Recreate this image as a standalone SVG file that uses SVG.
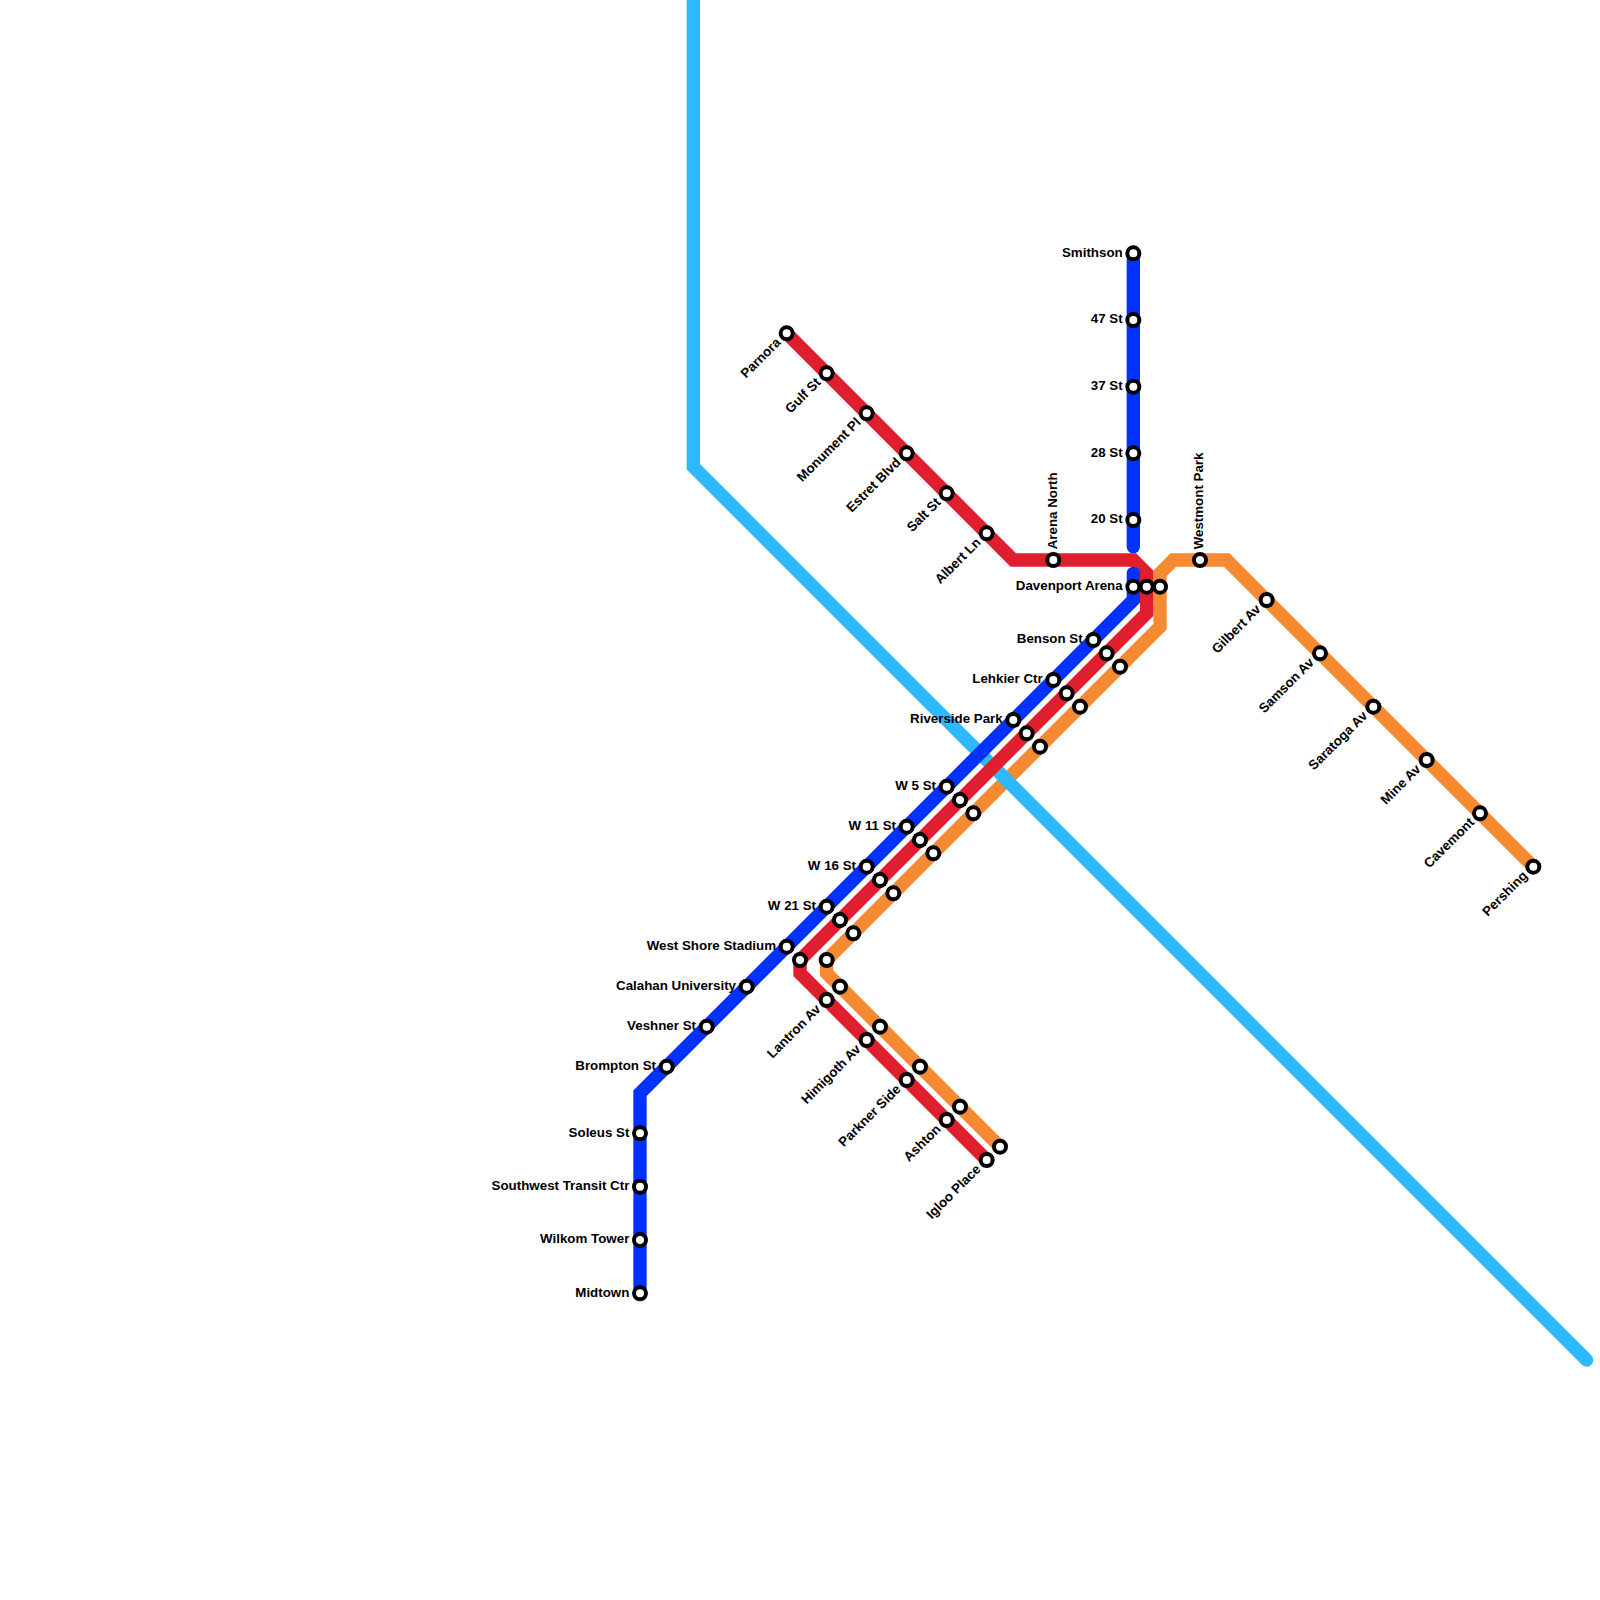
<svg xmlns="http://www.w3.org/2000/svg" width="1600" height="1600" viewBox="0 0 1600 1600">
<style>
.line{fill:none;stroke-width:13.33;stroke-linecap:round;stroke-linejoin:miter}
.cyan{stroke:#2db9ff}.blue{stroke:#0331ff}.red{stroke:#df1e2e}.orange{stroke:#f68a33}
circle{fill:#fff;stroke:#000;stroke-width:4}
text{font-family:"Liberation Sans",Arial,sans-serif;font-weight:700;font-size:13.33px;fill:#000}
.e{text-anchor:end}
</style>
<rect width="1600" height="1600" fill="#fff"/>
<g id="connectors">
<path class="line orange" d="M1533.33 866.67L1226.67 560H1173.33L1160 573.33V626.67L826.67 960V973.33L1000 1146.67"/>
<path class="line cyan" d="M693.33 -10V466.67L1586.67 1360"/>
<path class="line red" d="M786.67 333.33L1013.33 560H1133.33L1146.67 573.33V613.33L800 960V973.33L986.67 1160"/>
<path class="line blue" d="M1133.33 253.33V546.67"/>
<path class="line blue" d="M1133.33 573.33V600L640 1093.33V1293.33"/>
</g>
<g id="blue-stations">
<g id="smithson" transform="translate(1133.33 253.33)"><circle r="6"/><text class="e" x="-10.67" y="3.33">Smithson</text></g>
<g id="st47" transform="translate(1133.33 320)"><circle r="6"/><text class="e" x="-10.67" y="3.33">47 St</text></g>
<g id="st37" transform="translate(1133.33 386.67)"><circle r="6"/><text class="e" x="-10.67" y="3.33">37 St</text></g>
<g id="st28" transform="translate(1133.33 453.33)"><circle r="6"/><text class="e" x="-10.67" y="3.33">28 St</text></g>
<g id="st20" transform="translate(1133.33 520)"><circle r="6"/><text class="e" x="-10.67" y="3.33">20 St</text></g>
<g id="davenport" transform="translate(1133.33 586.67)"><circle r="6"/><text class="e" x="-10.67" y="3.33">Davenport Arena</text></g>
<g id="benson" transform="translate(1093.33 640)"><circle r="6"/><text class="e" x="-10.67" y="3.33">Benson St</text></g>
<g id="lehkier" transform="translate(1053.33 680)"><circle r="6"/><text class="e" x="-10.67" y="3.33">Lehkier Ctr</text></g>
<g id="riverside" transform="translate(1013.33 720)"><circle r="6"/><text class="e" x="-10.67" y="3.33">Riverside Park</text></g>
<g id="w5" transform="translate(946.67 786.67)"><circle r="6"/><text class="e" x="-10.67" y="3.33">W 5 St</text></g>
<g id="w11" transform="translate(906.67 826.67)"><circle r="6"/><text class="e" x="-10.67" y="3.33">W 11 St</text></g>
<g id="w16" transform="translate(866.67 866.67)"><circle r="6"/><text class="e" x="-10.67" y="3.33">W 16 St</text></g>
<g id="w21" transform="translate(826.67 906.67)"><circle r="6"/><text class="e" x="-10.67" y="3.33">W 21 St</text></g>
<g id="westshore" transform="translate(786.67 946.67)"><circle r="6"/><text class="e" x="-10.67" y="3.33">West Shore Stadium</text></g>
<g id="calahan" transform="translate(746.67 986.67)"><circle r="6"/><text class="e" x="-10.67" y="3.33">Calahan University</text></g>
<g id="veshner" transform="translate(706.67 1026.67)"><circle r="6"/><text class="e" x="-10.67" y="3.33">Veshner St</text></g>
<g id="brompton" transform="translate(666.67 1066.67)"><circle r="6"/><text class="e" x="-10.67" y="3.33">Brompton St</text></g>
<g id="soleus" transform="translate(640 1133.33)"><circle r="6"/><text class="e" x="-10.67" y="3.33">Soleus St</text></g>
<g id="southwest" transform="translate(640 1186.67)"><circle r="6"/><text class="e" x="-10.67" y="3.33">Southwest Transit Ctr</text></g>
<g id="wilkom" transform="translate(640 1240)"><circle r="6"/><text class="e" x="-10.67" y="3.33">Wilkom Tower</text></g>
<g id="midtown" transform="translate(640 1293.33)"><circle r="6"/><text class="e" x="-10.67" y="3.33">Midtown</text></g>
</g>
<g id="red-stations">
<g id="parnora" transform="translate(786.67 333.33)"><circle r="6"/><text class="e" x="-10.67" y="3.33" transform="rotate(-45)">Parnora</text></g>
<g id="gulf" transform="translate(826.67 373.33)"><circle r="6"/><text class="e" x="-10.67" y="3.33" transform="rotate(-45)">Gulf St</text></g>
<g id="monument" transform="translate(866.67 413.33)"><circle r="6"/><text class="e" x="-10.67" y="3.33" transform="rotate(-45)">Monument Pl</text></g>
<g id="estret" transform="translate(906.67 453.33)"><circle r="6"/><text class="e" x="-10.67" y="3.33" transform="rotate(-45)">Estret Blvd</text></g>
<g id="salt" transform="translate(946.67 493.33)"><circle r="6"/><text class="e" x="-10.67" y="3.33" transform="rotate(-45)">Salt St</text></g>
<g id="albert" transform="translate(986.67 533.33)"><circle r="6"/><text class="e" x="-10.67" y="3.33" transform="rotate(-45)">Albert Ln</text></g>
<g id="arena-north" transform="translate(1053.33 560)"><circle r="6"/><text x="10.67" y="3.33" transform="rotate(-90)">Arena North</text></g>
<g id="red-davenport" transform="translate(1146.67 586.67)"><circle r="6"/></g>
<g id="red-benson" transform="translate(1106.67 653.33)"><circle r="6"/></g>
<g id="red-lehkier" transform="translate(1066.67 693.33)"><circle r="6"/></g>
<g id="red-riverside" transform="translate(1026.67 733.33)"><circle r="6"/></g>
<g id="red-w5" transform="translate(960 800)"><circle r="6"/></g>
<g id="red-w11" transform="translate(920 840)"><circle r="6"/></g>
<g id="red-w16" transform="translate(880 880)"><circle r="6"/></g>
<g id="red-w21" transform="translate(840 920)"><circle r="6"/></g>
<g id="red-westshore" transform="translate(800 960)"><circle r="6"/></g>
<g id="lantron" transform="translate(826.67 1000)"><circle r="6"/><text class="e" x="-10.67" y="3.33" transform="rotate(-45)">Lantron Av</text></g>
<g id="himigoth" transform="translate(866.67 1040)"><circle r="6"/><text class="e" x="-10.67" y="3.33" transform="rotate(-45)">Himigoth Av</text></g>
<g id="parkner" transform="translate(906.67 1080)"><circle r="6"/><text class="e" x="-10.67" y="3.33" transform="rotate(-45)">Parkner Side</text></g>
<g id="ashton" transform="translate(946.67 1120)"><circle r="6"/><text class="e" x="-10.67" y="3.33" transform="rotate(-45)">Ashton</text></g>
<g id="igloo" transform="translate(986.67 1160)"><circle r="6"/><text class="e" x="-10.67" y="3.33" transform="rotate(-45)">Igloo Place</text></g>
</g>
<g id="orange-stations">
<g id="orange-davenport" transform="translate(1160 586.67)"><circle r="6"/></g>
<g id="westmont" transform="translate(1200 560)"><circle r="6"/><text x="10.67" y="3.33" transform="rotate(-90)">Westmont Park</text></g>
<g id="gilbert" transform="translate(1266.67 600)"><circle r="6"/><text class="e" x="-10.67" y="3.33" transform="rotate(-45)">Gilbert Av</text></g>
<g id="samson" transform="translate(1320 653.33)"><circle r="6"/><text class="e" x="-10.67" y="3.33" transform="rotate(-45)">Samson Av</text></g>
<g id="saratoga" transform="translate(1373.33 706.67)"><circle r="6"/><text class="e" x="-10.67" y="3.33" transform="rotate(-45)">Saratoga Av</text></g>
<g id="mine" transform="translate(1426.67 760)"><circle r="6"/><text class="e" x="-10.67" y="3.33" transform="rotate(-45)">Mine Av</text></g>
<g id="cavemont" transform="translate(1480 813.33)"><circle r="6"/><text class="e" x="-10.67" y="3.33" transform="rotate(-45)">Cavemont</text></g>
<g id="pershing" transform="translate(1533.33 866.67)"><circle r="6"/><text class="e" x="-10.67" y="3.33" transform="rotate(-45)">Pershing</text></g>
<g id="orange-benson" transform="translate(1120 666.67)"><circle r="6"/></g>
<g id="orange-lehkier" transform="translate(1080 706.67)"><circle r="6"/></g>
<g id="orange-riverside" transform="translate(1040 746.67)"><circle r="6"/></g>
<g id="orange-w5" transform="translate(973.33 813.33)"><circle r="6"/></g>
<g id="orange-w11" transform="translate(933.33 853.33)"><circle r="6"/></g>
<g id="orange-w16" transform="translate(893.33 893.33)"><circle r="6"/></g>
<g id="orange-w21" transform="translate(853.33 933.33)"><circle r="6"/></g>
<g id="orange-westshore" transform="translate(826.67 960)"><circle r="6"/></g>
<g id="orange-lantron" transform="translate(840 986.67)"><circle r="6"/></g>
<g id="orange-himigoth" transform="translate(880 1026.67)"><circle r="6"/></g>
<g id="orange-parkner" transform="translate(920 1066.67)"><circle r="6"/></g>
<g id="orange-ashton" transform="translate(960 1106.67)"><circle r="6"/></g>
<g id="orange-igloo" transform="translate(1000 1146.67)"><circle r="6"/></g>
</g>
</svg>
